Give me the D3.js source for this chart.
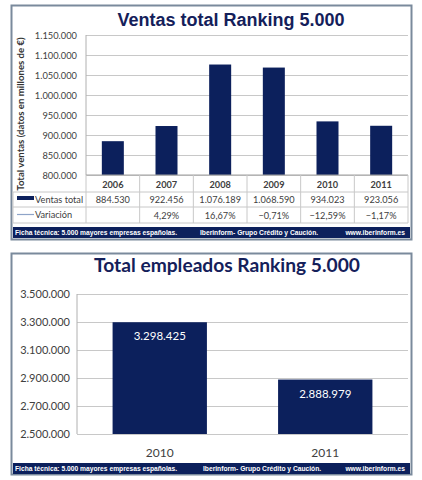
<!DOCTYPE html>
<html>
<head>
<meta charset="utf-8">
<script src="https://cdn.jsdelivr.net/npm/d3@7"></script>
<style>
  body { margin: 0; background: #fff; }
  text { font-family: Lato, "Open Sans", sans-serif; }
  .grid line { stroke: #c8c8c8; }
  .grid .domain { display: none; }
  .tick-lbl { fill: #404040; }
  .cell { fill: #404040; font-size: 9.2px; }
  .foot { fill: #fff; font-family: "Liberation Sans", Arial, sans-serif; font-weight: bold; font-size: 6.7px; }
</style>
</head>
<body>
<div id="chart"></div>
<script>
// DATA
const years      = ['2006', '2007', '2008', '2009', '2010', '2011'];
const ventas     = [884530, 922456, 1076189, 1068590, 934023, 923056];
const variacion  = [null, 4.29, 16.67, -0.71, -12.59, -1.17];
const ventasTicks = [800000, 850000, 900000, 950000, 1000000, 1050000, 1100000, 1150000];

const empYears   = ['2010', '2011'];
const empleados  = [3298425, 2888979];
const empTicks   = [2500000, 2700000, 2900000, 3100000, 3300000, 3500000];

const footTexts  = ['Ficha técnica: 5.000 mayores empresas españolas.', 'Iberinform- Grupo Crédito y Caución.', 'www.iberinform.es'];

const NAVY = '#0c205c', BORDER = '#7a8a9c';
const loc = d3.formatLocale({decimal: ',', thousands: '.', grouping: [3], currency: ['', '']});
const fmtN = loc.format(',d');
const fmtP = loc.format(',.2f');

const svg = d3.select('#chart').append('svg').attr('width', 422).attr('height', 480);

function footer(y, x2) {
	svg.append('rect').attr('x', 13).attr('y', y).attr('width', 397).attr('height', 11).attr('fill', NAVY);
	svg.append('text').attr('class', 'foot').attr('x', 15).attr('y', y + 8).text(footTexts[0]);
	svg.append('text').attr('class', 'foot').attr('x', x2).attr('y', y + 8).text(footTexts[1]);
	svg.append('text').attr('class', 'foot').attr('x', 405).attr('y', y + 8).attr('text-anchor', 'end').text(footTexts[2]);
}

//------------------ TOP PANEL: VENTAS
const T = {LEFT: 86, RIGHT: 408, TOP: 35, BOTTOM: 175}
svg.append('rect').attr('x', 11.5).attr('y', 5.5).attr('width', 400).attr('height', 234)
	.attr('fill', '#fff').attr('stroke', BORDER).attr('stroke-width', 2);

svg.append('text').text('Ventas total Ranking 5.000')
	.attr('x', 231).attr('y', 25.5).attr('text-anchor', 'middle')
	.style('font-family', '"Liberation Sans", Arial, sans-serif')
	.style('font-weight', 'bold').style('font-size', '18px').attr('fill', '#14205a');

const xV = d3.scaleBand().domain(years).range([T.LEFT, T.RIGHT]).paddingInner(0.59).paddingOuter(0.295);
const xCol = d3.scaleBand().domain(years).range([T.LEFT, T.RIGHT]);
const yV = d3.scaleLinear().domain([800000, 1150000]).range([T.BOTTOM, T.TOP]);

svg.append('g').attr('class', 'grid').attr('transform', `translate(${T.LEFT},0)`)
	.call(d3.axisLeft(yV).tickValues(ventasTicks).tickSize(-(T.RIGHT - T.LEFT)).tickFormat(''));
svg.append('line').attr('x1', T.LEFT).attr('x2', T.LEFT).attr('y1', T.TOP).attr('y2', T.BOTTOM).attr('stroke', '#b0b0b0');

svg.selectAll('.tv').data(ventasTicks).join('text').attr('class', 'tick-lbl')
	.attr('x', 77).attr('y', d => yV(d) + 3.5).attr('text-anchor', 'end').style('font-size', '9.3px').text(fmtN);

svg.selectAll('.barV').data(ventas).join('rect').attr('class', 'barV')
	.attr('x', (d, i) => xV(years[i])).attr('width', xV.bandwidth())
	.attr('y', d => yV(d)).attr('height', d => T.BOTTOM - yV(d)).attr('fill', NAVY);

svg.append('text').text('Total ventas (datos en millones de €)')
	.attr('transform', 'translate(24,114) rotate(-90)').attr('text-anchor', 'middle')
	.style('font-weight', 'bold').style('font-size', '9.6px').attr('fill', '#333');

// table
const rows = [T.BOTTOM, 192, 207, 223];
const tbl = svg.append('g').attr('stroke', '#c8c8c8');
tbl.append('line').attr('x1', T.LEFT).attr('x2', T.RIGHT).attr('y1', rows[0]).attr('y2', rows[0]).attr('stroke', '#a0a0a0');
[rows[1], rows[2], rows[3]].forEach(y => tbl.append('line').attr('x1', 13).attr('x2', T.RIGHT).attr('y1', y).attr('y2', y));
years.forEach(yr => tbl.append('line').attr('x1', xCol(yr)).attr('x2', xCol(yr)).attr('y1', rows[0]).attr('y2', rows[3]));
tbl.append('line').attr('x1', T.RIGHT).attr('x2', T.RIGHT).attr('y1', rows[0]).attr('y2', rows[3]);
tbl.append('line').attr('x1', 13).attr('x2', 13).attr('y1', rows[1]).attr('y2', rows[3]);

svg.selectAll('.yr').data(years).join('text').attr('class', 'cell')
	.attr('x', d => xCol(d) + xCol.bandwidth() / 2).attr('y', 187.5).attr('text-anchor', 'middle')
	.style('font-weight', 'bold').text(d => d);
svg.selectAll('.vv').data(ventas).join('text').attr('class', 'cell')
	.attr('x', (d, i) => xCol(years[i]) + xCol.bandwidth() / 2).attr('y', 203).attr('text-anchor', 'middle').text(fmtN);
svg.selectAll('.vp').data(variacion).join('text').attr('class', 'cell')
	.attr('x', (d, i) => xCol(years[i]) + xCol.bandwidth() / 2).attr('y', 218.5).attr('text-anchor', 'middle')
	.text(d => d === null ? '' : fmtP(d) + '%');

svg.append('rect').attr('x', 17).attr('y', 196).attr('width', 17).attr('height', 4).attr('fill', NAVY);
svg.append('text').attr('class', 'cell').attr('x', 35).attr('y', 203).text('Ventas total');
svg.append('line').attr('x1', 17).attr('x2', 34).attr('y1', 214.5).attr('y2', 214.5).attr('stroke', '#8ea4c8').attr('stroke-width', 1.2);
svg.append('text').attr('class', 'cell').attr('x', 35).attr('y', 218).text('Variación');

footer(227, 200);

//------------------ BOTTOM PANEL: EMPLEADOS
const B = {LEFT: 77, RIGHT: 408, TOP: 294, BOTTOM: 434}
svg.append('rect').attr('x', 11.5).attr('y', 253.5).attr('width', 400).attr('height', 221)
	.attr('fill', '#fff').attr('stroke', BORDER).attr('stroke-width', 2);

svg.append('text').text('Total empleados Ranking 5.000')
	.attr('x', 227).attr('y', 272).attr('text-anchor', 'middle')
	.style('font-weight', 'bold').style('font-size', '19.2px').attr('fill', '#14205a');

const xE = d3.scaleBand().domain(empYears).range([B.LEFT, B.RIGHT]).paddingInner(0.43).paddingOuter(0.215);
const yE = d3.scaleLinear().domain([2500000, 3500000]).range([B.BOTTOM, B.TOP]);

svg.append('g').attr('class', 'grid').attr('transform', `translate(${B.LEFT},0)`)
	.call(d3.axisLeft(yE).tickValues(empTicks).tickSize(-(B.RIGHT - B.LEFT)).tickFormat(''));
svg.append('line').attr('x1', B.LEFT).attr('x2', B.LEFT).attr('y1', B.TOP).attr('y2', B.BOTTOM).attr('stroke', '#b0b0b0');

svg.selectAll('.te').data(empTicks).join('text').attr('class', 'tick-lbl')
	.attr('x', 70).attr('y', d => yE(d) + 4).attr('text-anchor', 'end').style('font-size', '11px').text(fmtN);

svg.selectAll('.barE').data(empleados).join('rect').attr('class', 'barE')
	.attr('x', (d, i) => xE(empYears[i])).attr('width', xE.bandwidth())
	.attr('y', d => yE(d)).attr('height', d => B.BOTTOM - yE(d)).attr('fill', NAVY);
svg.selectAll('.le').data(empleados).join('text')
	.attr('x', (d, i) => xE(empYears[i]) + xE.bandwidth() / 2).attr('y', d => yE(d) + 18)
	.attr('text-anchor', 'middle').attr('fill', '#fff').style('font-size', '11.5px').text(fmtN);

svg.selectAll('.xe').data(empYears).join('text').attr('class', 'tick-lbl')
	.attr('x', d => xE(d) + xE.bandwidth() / 2).attr('y', 457).attr('text-anchor', 'middle')
	.style('font-size', '12px').text(d => d);

footer(463, 203);
</script>
</body>
</html>
